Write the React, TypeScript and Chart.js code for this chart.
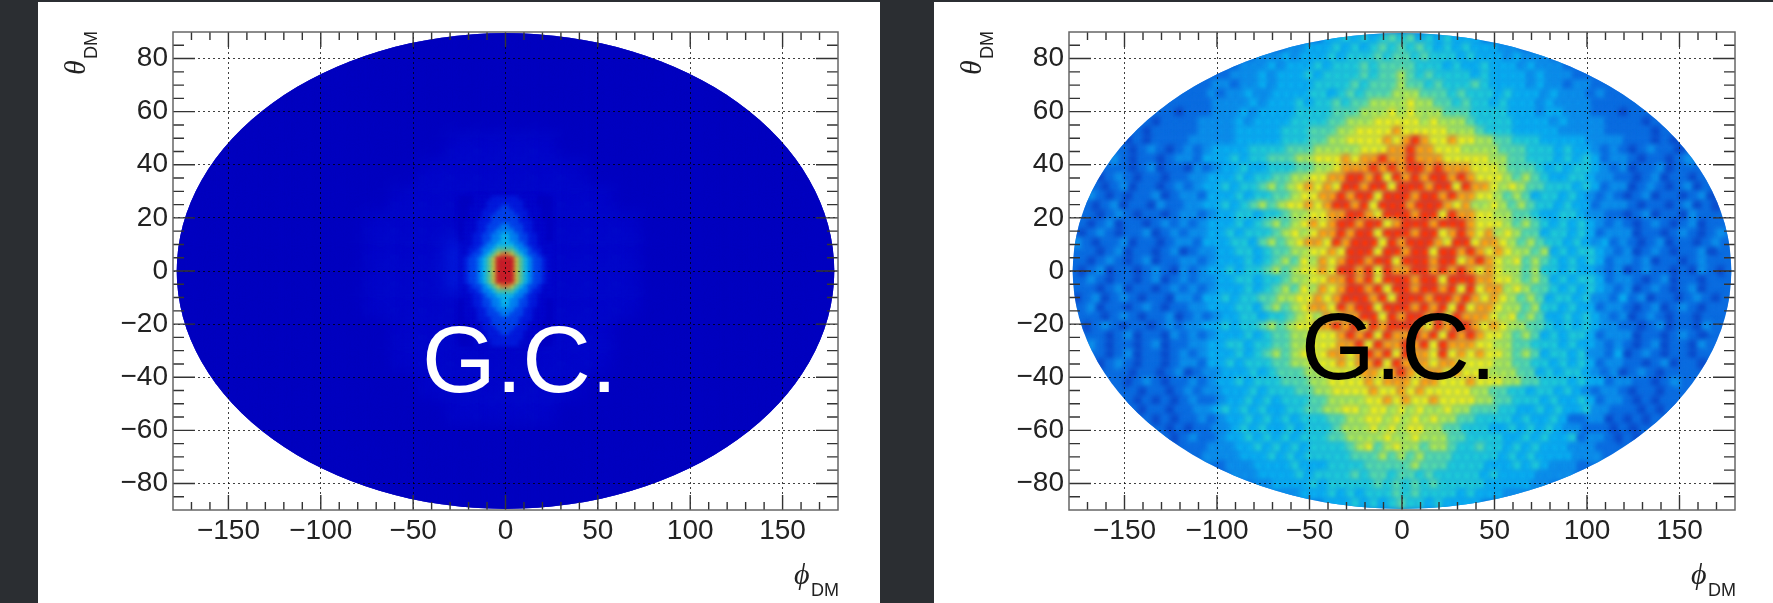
import React, { useEffect, useRef } from "react";
import { Chart, registerables } from "chart.js";

Chart.register(...registerables);

const PAGE_DARK = "#2b2e32";
const PHI_TICK_LABELS = [-150, -100, -50, 0, 50, 100, 150];
const THETA_TICK_LABELS = [-80, -60, -40, -20, 0, 20, 40, 60, 80];

// Colour levels of the left map (very low flux away from the centre)
const LEFT_LEVELS = ["#0000c0", "#0008cc", "#0020e0", "#0050f0", "#0098f8", "#10d8f0", "#60e890", "#f0f020", "#ff9010", "#f82000"];
// Colour levels of the right map
const RIGHT_LEVELS = ["#0a4ccc", "#0a6ce0", "#0c90ea", "#0ab0f0", "#20ccd8", "#58dca8", "#b0ea50", "#eef01c", "#ffa010", "#ff3406"];

// Left map: whole sky, 15 deg x 10 deg, rows from theta = +85 down
const LEFT_SKY = [
  "000000000000000000000000",
  "000000000000000000000000",
  "000000000000000000000000",
  "000000000000000000000000",
  "000000000011110000000000",
  "000000000111111000000000",
  "000000001111111100000000",
  "000000011112111110000000",
  "000000011122211110000000",
  "000000011122211110000000",
  "000000011112211110000000",
  "000000001111111100000000",
  "000000001111111100000000",
  "000000000111111000000000",
  "000000000011110000000000",
  "000000000000000000000000",
  "000000000000000000000000",
  "000000000000000000000000",
];

// Left map: central region, 2.5 deg x 1.75 deg, rows from theta = +27.125 down
const LEFT_CORE = [
  "00011112222221111000",
  "00011122222222111000",
  "00111122233222111100",
  "00111222333322211100",
  "00111223333332211100",
  "01112223333332221110",
  "01112233344333221110",
  "01112233444433221110",
  "01122334455443322110",
  "01122334455443322110",
  "11122344555544322111",
  "11223445666654432211",
  "11233456788765433211",
  "12334567999976543321",
  "12334567999976543321",
  "12334567999976543321",
  "12334567999976543321",
  "12334567999976543321",
  "12334567999976543321",
  "11233456788765433211",
  "11223445666654432211",
  "11122344555544322111",
  "01122334455443322110",
  "01122334455443322110",
  "01112233444433221110",
  "01112233344333221110",
  "01112223333332221110",
  "00111223333332211100",
  "00111222333322211100",
  "00111122233222111100",
  "00011122222222111000",
  "00011112222221111000",
];

// Right map: 5 deg x 3.5 deg, rows from theta = +87.5 down, centred on phi = 0
const RIGHT_SKY = [
  "33434345453434333",
  "2233343434545454343433322",
  "22232333434445455454443433323222",
  "1222323334344454555544434334333232221",
  "11222323334344445455654544443433332322211",
  "112212232333344445455565545444543333232212211",
  "111212232233334434545556665554544434333232221211",
  "111112222323334344545566667665545443433323222211111",
  "11011122232333344445556667676665554444333233222111011",
  "10111122223233334444556667777767666544443333232222111101",
  "1011111222233333444555667777877777666544433333222221111101",
  "010111122222333334445566777787898778776655444333332222111010",
  "1012101212333344445556666677788988777666655544434332121012110",
  "210110122133343445556677787889889888777776655444343431221011012",
  "1012011021233433444556678889898998988877765554343443212011201",
  "012101101122333434455667788998979898998987776565433443221101201101",
  "1012011012123343445656787879989979998997988767655444343122012101201",
  "21010112012213334344556778898997999899898877656534434321210120110120",
  "101201102112233434565677878998979998999878667656544343312221011012010",
  "012101101221233443445667788998799989979887766554334432211012011021",
  "1012011012121233343456567878998997899989998777656543434321210121012011",
  "0121011201212233434445676788989979998997898786765534434312220110121012",
  "21011201101221333443565678879899979899987997887656544343231210120110121",
  "10120110120122334434556677879997998997998987876656343443212012101120",
  "01210120112212333434565768789989979998997898767565434343122120110121",
  "101201101210212334344565677879989798899898987876656443433212012110102101",
  "21011012012122334434456677889897999899799988776565343443122101201101",
  "10120110121212333434565768789989799899897978867655434343212012101201",
  "01201210110221334344556677878999897999899898787656534434221312011012101",
  "1201101210112233344356567887989979998989797887665644343312210120121011",
  "1012101120121233443445676878899798998979888767565334343212012101101",
  "012101101212233434456567788989798999879899878766554343432211012011021",
  "101201102121233343455667778989798898979898776565343443122201101210",
  "21011012011223344344556677788979889897988877665544434332121012011021",
  "101201101212333434565677788789897988797878776565344342213012101101",
  "012101101221334344455667778788979888788777766554434343122110120110",
  "1011012012233343455566777788789878878777666553434432120121011",
  "012101121233434445556677778788878877787776655444343312211012",
  "10110121223334344455667777877878777776655443443432122101101",
  "101010121123343434445566667787877877776655444343343122101011",
  "0101101122343434334455667767767676676655544334343342211101010",
  "10101121233434343444556677676767665544443433431122010101",
  "010112234343343444566676767766554443343434322111010",
  "1012112334343434445566667667666554444334343341221010",
  "1122233434343444456756766566544544343433322211",
  "2222333434344444555656565554444434343333222",
  "1222333343334444555556555444433343432221",
  "2223333434444545545545444443433332222",
  "22333343444445454545444443333322",
  "22333434344454544443433322",
  "33343434544343333",
];

const ELLIPSE_PHI = 178;
const ELLIPSE_THETA = 89.6;

type Cell = { x: number; y: number; v: number };

function cellsFromRows(rows: string[], thetaTop: number, dTheta: number, dPhi: number): Cell[] {
  const out: Cell[] = [];
  rows.forEach((row, r) => {
    const n = row.length;
    for (let i = 0; i < n; i++) {
      out.push({ x: (i - n / 2 + 0.5) * dPhi, y: thetaTop - r * dTheta, v: Number(row[i]) });
    }
  });
  return out;
}

type PanelCfg = {
  base: string;
  gcColor: string;
  gcX: number;
  gcY: number;
  blur: number[];
};

function panelPlugin(cfg: PanelCfg) {
  return {
    id: "panel",
    beforeDatasetsDraw(chart: any) {
      const { ctx, scales } = chart;
      const cx = scales.x.getPixelForValue(0);
      const cy = scales.y.getPixelForValue(0);
      const rx = scales.x.getPixelForValue(ELLIPSE_PHI) - cx;
      const ry = cy - scales.y.getPixelForValue(ELLIPSE_THETA);
      ctx.save();
      ctx.beginPath();
      ctx.ellipse(cx, cy, rx, ry, 0, 0, Math.PI * 2);
      ctx.fillStyle = cfg.base;
      ctx.fill();
      ctx.clip();
    },
    beforeDatasetDraw(chart: any, args: any) {
      chart.ctx.save();
      chart.ctx.filter = `blur(${cfg.blur[args.index]}px)`;
    },
    afterDatasetDraw(chart: any) {
      chart.ctx.restore();
    },
    afterDatasetsDraw(chart: any) {
      chart.ctx.restore();
    },
    afterDraw(chart: any) {
      const { ctx, scales, chartArea: a } = chart;
      ctx.save();
      // inward ticks on the four sides
      ctx.strokeStyle = "#333";
      ctx.lineWidth = 1.4;
      ctx.beginPath();
      for (const t of scales.x.ticks) {
        const major = t.value % 50 === 0;
        if (t.value === -180 || t.value === 180) continue;
        const p = scales.x.getPixelForValue(t.value);
        const len = major ? 15 : 8;
        ctx.moveTo(p, a.bottom);
        ctx.lineTo(p, a.bottom - len);
        ctx.moveTo(p, a.top);
        ctx.lineTo(p, a.top + len);
      }
      for (const t of scales.y.ticks) {
        const major = t.value % 20 === 0;
        if (t.value === -90 || t.value === 90) continue;
        const p = scales.y.getPixelForValue(t.value);
        const len = major ? 22 : 11;
        ctx.moveTo(a.left, p);
        ctx.lineTo(a.left + len, p);
        ctx.moveTo(a.right, p);
        ctx.lineTo(a.right - len, p);
      }
      ctx.stroke();
      ctx.strokeStyle = "#666";
      ctx.lineWidth = 1.5;
      ctx.strokeRect(a.left, a.top, a.right - a.left, a.bottom - a.top);

      // axis titles
      ctx.fillStyle = "#222";
      ctx.textBaseline = "alphabetic";
      ctx.textAlign = "left";
      ctx.font = "italic 30px 'Liberation Serif'";
      ctx.fillText("\u03D5", a.right - 44, a.bottom + 74);
      ctx.font = "18px 'Liberation Sans'";
      ctx.fillText("DM", a.right - 27, a.bottom + 86);
      ctx.save();
      ctx.translate(a.left - 88, a.top + 43);
      ctx.rotate(-Math.PI / 2);
      ctx.font = "italic 30px 'Liberation Serif'";
      ctx.fillText("\u03B8", 0, 0);
      ctx.font = "18px 'Liberation Sans'";
      ctx.fillText("DM", 16, 12);
      ctx.restore();

      // annotation
      ctx.fillStyle = cfg.gcColor;
      ctx.font = "95px 'Liberation Sans'";
      ctx.textAlign = "left";
      ctx.fillText("G.C.", cfg.gcX, cfg.gcY);
      ctx.restore();
    },
  };
}

function makeChart(canvas: HTMLCanvasElement, datasets: any[], cfg: PanelCfg, rightPad: number) {
  const dash = [2, 3];
  return new Chart(canvas, {
    type: "scatter",
    data: { datasets },
    plugins: [panelPlugin(cfg)],
    options: {
      animation: false,
      responsive: false,
      devicePixelRatio: 1,
      layout: { autoPadding: false, padding: { left: 0, top: 30, right: rightPad, bottom: 0 } },
      plugins: { legend: { display: false }, tooltip: { enabled: false } },
      scales: {
        x: {
          type: "linear",
          min: -180,
          max: 180,
          afterFit(s: any) { s.height = 93; },
          border: { display: false, dash },
          grid: {
            z: 1,
            drawTicks: false,
            color: "rgba(0,0,0,0.75)",
            lineWidth: (c: any) => (c.tick && PHI_TICK_LABELS.includes(c.tick.value) ? 1 : 0),
          },
          ticks: {
            stepSize: 10,
            autoSkip: false,
            maxRotation: 0,
            padding: 4,
            color: "#222",
            font: { family: "'Liberation Sans'", size: 28 },
            callback: (v: any) => (PHI_TICK_LABELS.includes(v) ? String(v).replace("-", "\u2212") : ""),
          },
        },
        y: {
          type: "linear",
          min: -90,
          max: 90,
          afterFit(s: any) { s.width = 135; },
          border: { display: false, dash },
          grid: {
            z: 1,
            drawTicks: false,
            color: "rgba(0,0,0,0.75)",
            lineWidth: (c: any) => (c.tick && THETA_TICK_LABELS.includes(c.tick.value) ? 1 : 0),
          },
          ticks: {
            stepSize: 5,
            autoSkip: false,
            padding: 5,
            color: "#222",
            font: { family: "'Liberation Sans'", size: 28 },
            callback: (v: any) => (THETA_TICK_LABELS.includes(v) ? String(v).replace("-", "\u2212") : ""),
          },
        },
      },
    } as any,
  });
}

function cellDataset(label: string, data: Cell[], levels: string[], radius: number, order: number) {
  return {
    label,
    data,
    order,
    showLine: false,
    pointStyle: "rect",
    pointRadius: radius,
    pointBorderWidth: 0,
    borderWidth: 0,
    pointBackgroundColor: (c: any) => levels[c.raw ? c.raw.v : 0],
    backgroundColor: levels[0],
  };
}

export default function App() {
  const leftRef = useRef<HTMLCanvasElement>(null);
  const rightRef = useRef<HTMLCanvasElement>(null);
  useEffect(() => {
    const left = makeChart(
      leftRef.current!,
      [
        cellDataset("sky", cellsFromRows(LEFT_SKY, 85, 10, 15), LEFT_LEVELS, 24, 2),
        cellDataset("core", cellsFromRows(LEFT_CORE, 27.125, 1.75, 2.5), LEFT_LEVELS, 3.8, 1),
      ],
      { base: LEFT_LEVELS[0], gcColor: "#ffffff", gcX: 384, gcY: 390, blur: [10, 2] },
      42
    );
    const right = makeChart(
      rightRef.current!,
      [cellDataset("sky", cellsFromRows(RIGHT_SKY, 87.5, 3.5, 5), RIGHT_LEVELS, 7.6, 1)],
      { base: RIGHT_LEVELS[1], gcColor: "#000000", gcX: 367, gcY: 377, blur: [2.6] },
      38
    );
    return () => {
      left.destroy();
      right.destroy();
    };
  }, []);
  return (
    <div style={{ position: "fixed", left: 0, top: 0, width: 1773, height: 603, background: PAGE_DARK, overflow: "hidden" }}>
      <canvas ref={leftRef} width={842} height={601} style={{ position: "absolute", left: 38, top: 2, width: 842, height: 601, background: "#fff", display: "block" }} />
      <canvas ref={rightRef} width={839} height={601} style={{ position: "absolute", left: 934, top: 2, width: 839, height: 601, background: "#fff", display: "block" }} />
    </div>
  );
}
